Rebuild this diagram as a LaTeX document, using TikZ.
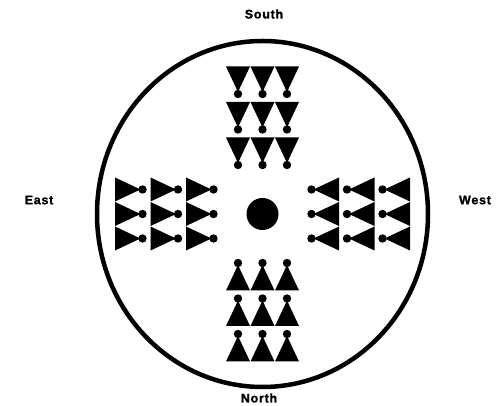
\documentclass[tikz,border=0pt]{standalone}
\usepackage{fontspec}
\setmainfont{Liberation Sans}
\newfontfamily\lblfont[FakeBold=1.2,LetterSpace=6]{Liberation Sans Bold}
\begin{document}
\begin{tikzpicture}[x=1pt,y=1pt,
  lbl/.style={font=\fontsize{12.5}{14}\lblfont, text=black, inner sep=0pt}]
\useasboundingbox (0,0) rectangle (496,406);
\fill[white] (0,0) rectangle (496,406);
\coordinate (c) at (262.5,192);
\draw[line width=4.5pt] (c) ellipse [x radius=165.5, y radius=173];
\fill (c) circle [radius=16];
\foreach \ang in {0,90,180,270}{
  \begin{scope}[shift={(c)}, rotate=\ang]
    \foreach \r in {49,84.5,120}{
      \foreach \xx in {-24.5,0,24.5}{
        \fill (\xx,\r) circle [radius=4.2];
        \fill (\xx,\r+2) -- (\xx-12,\r+27.5) -- (\xx+12,\r+27.5) -- cycle;
      }
    }
  \end{scope}
}
\node[lbl] (s) at (264,392) {South};
\node[lbl] (n) at (259,8) {North};
\node[lbl] (e) at (39,206) {East};
\node[lbl] (w) at (475,206) {West};
\end{tikzpicture}
\end{document}
